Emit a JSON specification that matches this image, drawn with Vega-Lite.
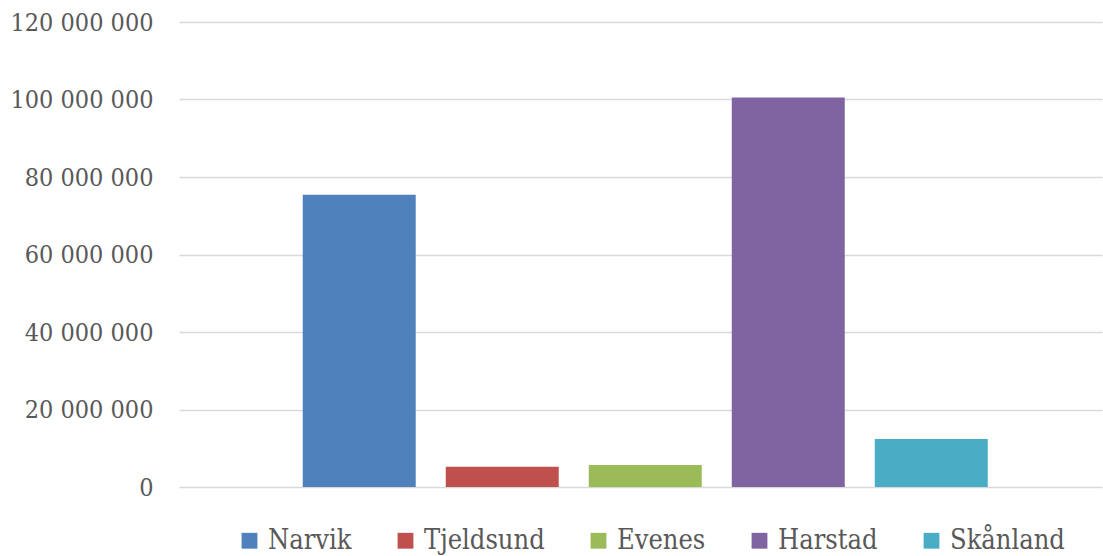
{
  "$schema": "https://vega.github.io/schema/vega-lite/v6.json",
  "width": 923,
  "height": 465,
  "autosize": "none",
  "padding": {"left": 179, "top": 22, "right": 1, "bottom": 69},
  "background": "white",
  "data": {
    "values": [
      {"kommune": "Narvik", "verdi": 75400000},
      {"kommune": "Tjeldsund", "verdi": 5200000},
      {"kommune": "Evenes", "verdi": 5700000},
      {"kommune": "Harstad", "verdi": 100500000},
      {"kommune": "Skånland", "verdi": 12400000}
    ]
  },
  "mark": {"type": "bar"},
  "encoding": {
    "x": {
      "field": "kommune",
      "type": "nominal",
      "sort": null,
      "axis": null,
      "scale": {"paddingInner": 0.21, "paddingOuter": 0.832, "align": 0.52}
    },
    "y": {
      "field": "verdi",
      "type": "quantitative",
      "scale": {"domain": [0, 120000000], "nice": false},
      "axis": {
        "title": null,
        "values": [0, 20000000, 40000000, 60000000, 80000000, 100000000, 120000000],
        "format": ",d",
        "domain": false,
        "ticks": false,
        "labelPadding": 26,
        "labelFont": "DejaVu Serif Condensed, DejaVu Serif",
        "labelFontSize": 25,
        "labelColor": "#595959",
        "gridColor": "#d9d9d9",
        "gridWidth": 1.5
      }
    },
    "color": {
      "field": "kommune",
      "type": "nominal",
      "sort": null,
      "scale": {
        "domain": ["Narvik", "Tjeldsund", "Evenes", "Harstad", "Skånland"],
        "range": ["#4F81BD", "#C0504D", "#9BBB59", "#8064A2", "#4BACC6"]
      },
      "legend": {
        "title": null,
        "orient": "none",
        "direction": "horizontal",
        "legendX": 57,
        "legendY": 505,
        "symbolType": "square",
        "symbolSize": 250,
        "symbolStrokeWidth": 0,
        "labelOffset": 5,
        "columnPadding": 40,
        "labelFont": "DejaVu Serif Condensed, DejaVu Serif",
        "labelFontSize": 27,
        "labelColor": "#595959",
        "labelLimit": 300
      }
    }
  },
  "config": {
    "locale": {
      "number": {"decimal": ",", "thousands": " ", "grouping": [3], "currency": ["", " kr"]}
    },
    "view": {"stroke": null}
  }
}
